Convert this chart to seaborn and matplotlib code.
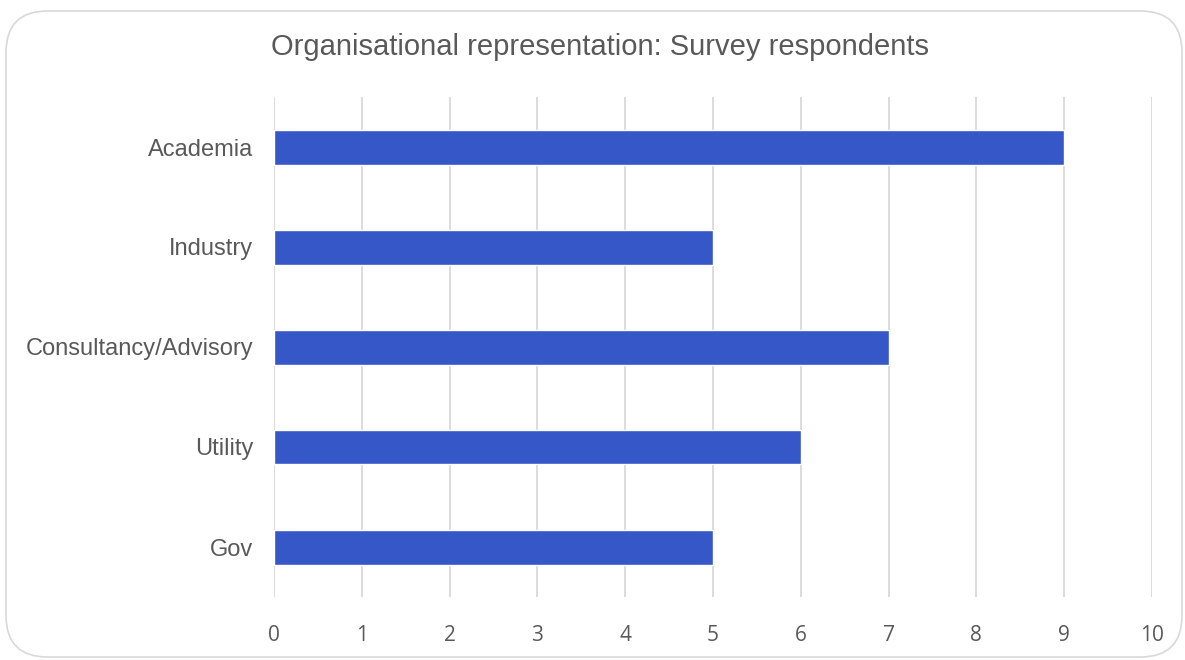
import matplotlib
matplotlib.use("Agg")
import matplotlib.pyplot as plt
import seaborn as sns
import pandas as pd
from matplotlib.patches import FancyBboxPatch

categories = ["Academia", "Industry", "Consultancy/Advisory", "Utility", "Gov"]
values = [9, 5, 7, 6, 5]
xticks = [0, 1, 2, 3, 4, 5, 6, 7, 8, 9, 10]
title = "Organisational representation: Survey respondents"

df = pd.DataFrame({"category": categories, "count": values})

sns.set_theme(style="white")
plt.rcParams["font.family"] = ["Liberation Sans", "DejaVu Sans"]

fig = plt.figure(figsize=(11.85, 6.6), dpi=100)
border = FancyBboxPatch((6 / 1185, 3 / 660), 1176 / 1185, 646 / 660,
                        boxstyle="round,pad=0,rounding_size=0.035",
                        transform=fig.transFigure, facecolor="none",
                        edgecolor="#d9d9d9", linewidth=1.2, zorder=-1,
                        mutation_aspect=1185 / 660)
fig.patches.append(border)

ax = fig.add_axes([274 / 1185, 1 - 597 / 660, (1152 - 274) / 1185, 500 / 660])
ax.set_facecolor("none")
sns.barplot(data=df, y="category", x="count", orient="h", color="#3657C8",
            saturation=1, width=0.35, ax=ax, zorder=3)

ax.set_xlim(0, 10)
ax.set_ylim(4.5, -0.5)
ax.set_xticks(xticks)
ax.set_xticklabels([str(t) for t in xticks], fontfamily="Open Sans", fontsize=15, color="#595959")
ax.tick_params(axis="x", length=0, pad=20)
ax.tick_params(axis="y", length=0, pad=15, labelsize=17, labelcolor="#595959")
ax.xaxis.grid(True, color="#d9d9d9", linewidth=1.3)
ax.set_axisbelow(True)
for s in ax.spines.values():
    s.set_visible(False)
ax.set_xlabel("")
ax.set_ylabel("")

fig.text(600 / 1185, 1 - 47 / 660, title, ha="center", va="center",
         fontsize=21, color="#595959")

fig.savefig("out.png", dpi=100)
